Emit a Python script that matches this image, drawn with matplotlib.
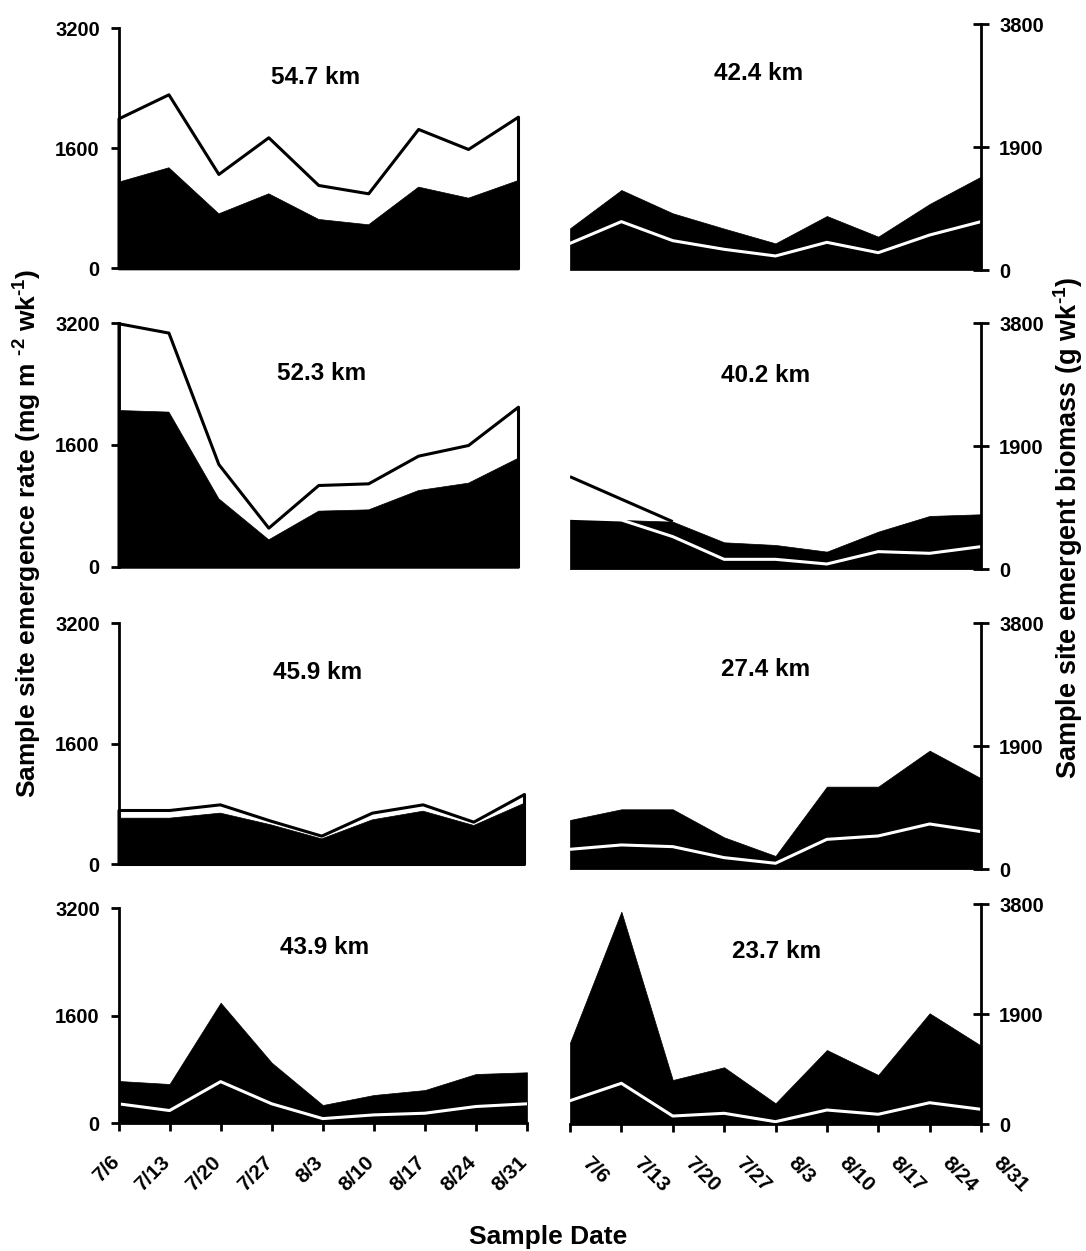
import numpy as np
import matplotlib
matplotlib.use('Agg')
import matplotlib.pyplot as plt
import matplotlib.transforms as mtransforms

plt.rcParams['font.family'] = ['Liberation Sans', 'DejaVu Sans']
plt.rcParams['font.weight'] = 'bold'
plt.rcParams['mathtext.fontset'] = 'custom'
plt.rcParams['mathtext.rm'] = 'Liberation Sans:bold'
plt.rcParams['mathtext.bf'] = 'Liberation Sans:bold'
plt.rcParams['mathtext.default'] = 'bf'

dates = ['7/6', '7/13', '7/20', '7/27', '8/3', '8/10', '8/17', '8/24', '8/31']

# emergence rate (mg m-2 wk-1), left column: total and the black part
total_547 = [2000, 2320, 1258, 1747, 1111, 1000, 1858, 1591, 2022]
part_547 = [1156, 1347, 733, 1000, 658, 587, 1089, 942, 1178]
total_523 = [3200, 3078, 1350, 513, 1074, 1096, 1460, 1600, 2104]
part_523 = [2060, 2039, 899, 360, 737, 754, 1008, 1105, 1434]
total_459 = [718, 718, 793, 576, 377, 683, 793, 563, 931]
part_459 = [616, 616, 683, 527, 341, 594, 709, 519, 815]
total_439 = [630, 585, 1795, 902, 272, 421, 495, 734, 759]
part_439 = [290, 190, 620, 290, 70, 125, 150, 250, 290]

# emergent biomass (g wk-1), right column
total_424 = [645, 1237, 877, 640, 412, 835, 516, 1021, 1444]
part_424 = [412, 748, 454, 320, 217, 428, 268, 541, 748]
total_402 = [788, 762, 736, 417, 376, 273, 582, 824, 850]
part_402 = [788, 762, 505, 154, 154, 82, 273, 247, 350]
early_402 = [1431, 1083, 736]
total_274 = [762, 927, 927, 494, 206, 1277, 1277, 1833, 1406]
part_274 = [309, 376, 350, 180, 93, 463, 515, 700, 582]
total_237 = [1406, 3673, 761, 981, 358, 1280, 848, 1915, 1355]
part_237 = [403, 704, 138, 185, 40, 242, 168, 368, 254]

W, H = 1086, 1251
fig = plt.figure(figsize=(W / 100, H / 100), dpi=100)


def box(x0, x1, ytop, ybot):
    return [x0 / W, 1 - ybot / H, (x1 - x0) / W, (ybot - ytop) / H]


x = np.arange(len(dates))

left_panels = [
    ('54.7 km', total_547, part_547, 'outline', 518, (28.3, 268.3), (316, 78)),
    ('52.3 km', total_523, part_523, 'outline', 518, (323.3, 566.7), (322, 373)),
    ('45.9 km', total_459, part_459, 'outline', 524, (623.3, 864), (318, 673)),
    ('43.9 km', total_439, part_439, 'band', 527, (908.3, 1123.3), (325, 948)),
]
right_panels = [
    ('42.4 km', total_424, part_424, 'band', (24.3, 270), (759, 73)),
    ('40.2 km', total_402, part_402, 'band', (323.3, 569.3), (766, 375)),
    ('27.4 km', total_274, part_274, 'band', (623.3, 869.3), (766, 670)),
    ('23.7 km', total_237, part_237, 'band', (904.3, 1124), (777, 952)),
]


def draw(ax, total, part, style):
    if style == 'outline':
        # white total area with black outline, black part below
        ax.fill_between(x, 0, total, facecolor='white', edgecolor='black',
                        lw=2.2, clip_on=False, zorder=1)
        ax.fill_between(x, 0, part, facecolor='black', edgecolor='black',
                        lw=0.5, zorder=2)
    else:
        # black total area, part marked by a white line
        ax.fill_between(x, 0, total, facecolor='black', edgecolor='black',
                        lw=0.5, zorder=1)
        ax.plot(x, part, color='white', lw=2.2, zorder=2)


def style_axes(ax, side, bottom):
    ax.set_xlim(0, len(dates) - 1)
    for s in ['top', 'left', 'right', 'bottom']:
        ax.spines[s].set_visible(False)
    ax.spines[side].set_visible(True)
    ax.spines[side].set_linewidth(2)
    ax.patch.set_alpha(0)
    if bottom:
        ax.spines['bottom'].set_visible(True)
        ax.spines['bottom'].set_linewidth(2)
        ax.set_xticks(x)
        ax.tick_params(axis='x', direction='out', length=6, width=2,
                       pad=15, labelsize=15)
    else:
        ax.set_xticks([])


for i, (name, total, part, style, x1, (yt, yb), (tx, ty)) in enumerate(left_panels):
    ax = fig.add_axes(box(118.5, x1, yt, yb))
    draw(ax, total, part, style)
    ax.set_ylim(0, 3200)
    ax.set_yticks([0, 1600, 3200])
    style_axes(ax, 'left', i == 3)
    ax.tick_params(axis='y', direction='out', length=6, width=2,
                   pad=7.5, labelsize=14.5)
    fig.text(tx / W, 1 - ty / H, name, ha='center', va='center', fontsize=17.5)
    if i == 3:
        ax.set_xticklabels(dates, rotation=45, ha='right', va='top',
                           rotation_mode='anchor')
        shift = mtransforms.ScaledTranslation(-9 / 100, 0, fig.dpi_scale_trans)
        for lab in ax.get_xticklabels():
            lab.set_transform(lab.get_transform() + shift)

for i, (name, total, part, style, (yt, yb), (tx, ty)) in enumerate(right_panels):
    ax = fig.add_axes(box(570, 981, yt, yb))
    draw(ax, total, part, style)
    if name == '40.2 km':
        ax.plot(x[:len(early_402)], early_402, color='black', lw=2.2,
                solid_capstyle='butt', zorder=3)
    ax.set_ylim(0, 3800)
    ax.set_yticks([0, 1900, 3800])
    ax.yaxis.tick_right()
    style_axes(ax, 'right', i == 3)
    ax.tick_params(axis='y', direction='inout', length=11, width=2,
                   pad=7.5, labelsize=14.5)
    fig.text(tx / W, 1 - ty / H, name, ha='center', va='center', fontsize=17.5)
    if i == 3:
        ax.set_xticklabels(dates, rotation=-45, ha='left', va='top',
                           rotation_mode='anchor')
        shift = mtransforms.ScaledTranslation(22 / 100, 0, fig.dpi_scale_trans)
        for lab in ax.get_xticklabels():
            lab.set_transform(lab.get_transform() + shift)

fig.text(28 / W, 1 - 533 / H,
         r'Sample site emergence rate (mg m $^{\text{-2}}$ wk$^{\text{-1}}$)',
         rotation=90, ha='center', va='center', fontsize=19)
fig.text(1068 / W, 1 - 528 / H,
         r'Sample site emergent biomass (g wk$^{\text{-1}}$)',
         rotation=90, ha='center', va='center', fontsize=19.5)
fig.text(548 / W, 1 - 1237 / H, 'Sample Date', ha='center', va='center',
         fontsize=19)

fig.savefig('out.png', dpi=100)
